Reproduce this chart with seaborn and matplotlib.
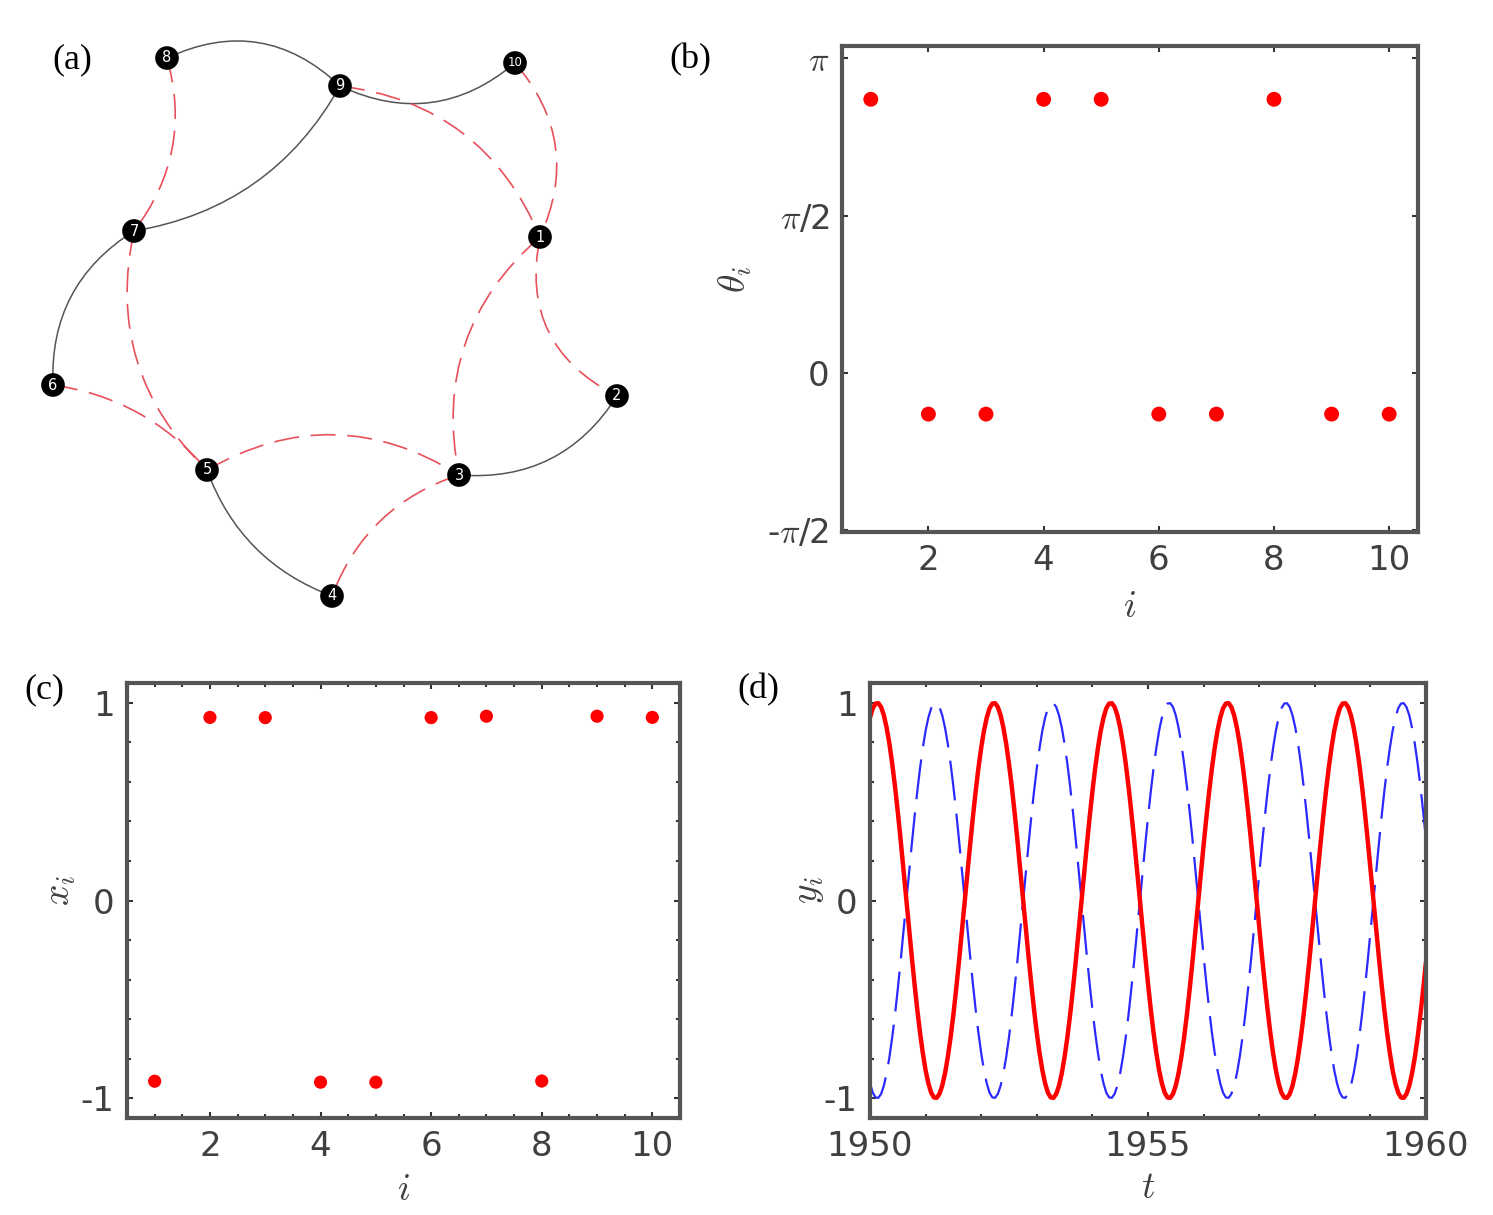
import numpy as np
import matplotlib
matplotlib.use("Agg")
import matplotlib.pyplot as plt
from matplotlib.path import Path
from matplotlib.patches import PathPatch
from matplotlib.ticker import MultipleLocator
import seaborn as sns

# ---- panel (a): network, node positions in image pixels (y down) ----
node_ids = [1, 2, 3, 4, 5, 6, 7, 8, 9, 10]
node_x = [540, 617, 459, 332, 207, 53, 134, 167, 340, 515]
node_y = [237, 396, 475, 596, 470, 385, 231, 58, 86, 63]
# (from, to, bend)
solid_edges = [(8, 9, -0.34), (9, 10, 0.32), (9, 7, -0.24),
               (7, 6, 0.29), (5, 4, 0.23), (3, 2, 0.30)]
dashed_edges = [(8, 7, -0.25), (9, 1, -0.29), (10, 1, -0.32),
                (1, 3, 0.29), (1, 2, 0.38), (7, 5, 0.28),
                (6, 5, -0.19), (5, 3, -0.30), (3, 4, 0.24)]

# ---- panel (b) / (c): phases and states per oscillator ----
osc = [1, 2, 3, 4, 5, 6, 7, 8, 9, 10]
theta = [2.73, -0.41, -0.41, 2.73, 2.73, -0.41, -0.41, 2.73, -0.41, -0.41]
x_state = [-0.914, 0.926, 0.925, -0.919, -0.919, 0.925, 0.932, -0.913, 0.932, 0.926]

# ---- panel (d): time series, read every 0.05 from 1950 to 1960 ----
t_start, t_stop = 1950, 1960
y_red = [
    0.925, 0.972, 0.996, 0.998, 0.978, 0.936, 0.873, 0.791, 0.691, 0.576, 0.447,
    0.309, 0.164, 0.015, -0.134, -0.280, -0.420, -0.551, -0.669, -0.772, -0.859,
    -0.925, -0.972, -0.996, -0.998, -0.978, -0.936, -0.873, -0.791, -0.691, -0.576,
    -0.447, -0.309, -0.164, -0.015, 0.134, 0.280, 0.420, 0.551, 0.669, 0.772, 0.859,
    0.925, 0.972, 0.996, 0.998, 0.978, 0.936, 0.873, 0.791, 0.691, 0.576, 0.447,
    0.309, 0.164, 0.015, -0.134, -0.280, -0.420, -0.551, -0.669, -0.772, -0.859,
    -0.925, -0.972, -0.996, -0.998, -0.978, -0.936, -0.873, -0.791, -0.691, -0.576,
    -0.447, -0.309, -0.164, -0.015, 0.134, 0.280, 0.420, 0.551, 0.669, 0.772, 0.859,
    0.925, 0.972, 0.996, 0.998, 0.978, 0.936, 0.873, 0.791, 0.691, 0.576, 0.447,
    0.309, 0.164, 0.015, -0.134, -0.280, -0.420, -0.551, -0.669, -0.772, -0.859,
    -0.925, -0.972, -0.996, -0.998, -0.978, -0.936, -0.873, -0.791, -0.691, -0.576,
    -0.447, -0.309, -0.164, -0.015, 0.134, 0.280, 0.420, 0.551, 0.669, 0.772, 0.859,
    0.925, 0.972, 0.996, 0.998, 0.978, 0.936, 0.873, 0.791, 0.691, 0.576, 0.447,
    0.309, 0.164, 0.015, -0.134, -0.280, -0.420, -0.551, -0.669, -0.772, -0.859,
    -0.925, -0.972, -0.996, -0.998, -0.978, -0.936, -0.873, -0.791, -0.691, -0.576,
    -0.447, -0.309, -0.164, -0.015, 0.134, 0.280, 0.420, 0.551, 0.669, 0.772, 0.859,
    0.925, 0.972, 0.996, 0.998, 0.978, 0.936, 0.873, 0.791, 0.691, 0.576, 0.447,
    0.309, 0.164, 0.015, -0.134, -0.280, -0.420, -0.551, -0.669, -0.772, -0.859,
    -0.925, -0.972, -0.996, -0.998, -0.978, -0.936, -0.873, -0.791, -0.691, -0.576,
    -0.447, -0.309,
]
y_blue = [
    -0.925, -0.972, -0.996, -0.998, -0.978, -0.936, -0.873, -0.791, -0.691, -0.576, -0.447,
    -0.309, -0.164, -0.015, 0.134, 0.280, 0.420, 0.551, 0.669, 0.772, 0.859,
    0.925, 0.972, 0.996, 0.998, 0.978, 0.936, 0.873, 0.791, 0.691, 0.576,
    0.447, 0.309, 0.164, 0.015, -0.134, -0.280, -0.420, -0.551, -0.669, -0.772, -0.859,
    -0.925, -0.972, -0.996, -0.998, -0.978, -0.936, -0.873, -0.791, -0.691, -0.576, -0.447,
    -0.309, -0.164, -0.015, 0.134, 0.280, 0.420, 0.551, 0.669, 0.772, 0.859,
    0.925, 0.972, 0.996, 0.998, 0.978, 0.936, 0.873, 0.791, 0.691, 0.576,
    0.447, 0.309, 0.164, 0.015, -0.134, -0.280, -0.420, -0.551, -0.669, -0.772, -0.859,
    -0.925, -0.972, -0.996, -0.998, -0.978, -0.936, -0.873, -0.791, -0.691, -0.576, -0.447,
    -0.309, -0.164, -0.015, 0.134, 0.280, 0.420, 0.551, 0.669, 0.772, 0.859,
    0.925, 0.972, 0.996, 0.998, 0.978, 0.936, 0.873, 0.791, 0.691, 0.576,
    0.447, 0.309, 0.164, 0.015, -0.134, -0.280, -0.420, -0.551, -0.669, -0.772, -0.859,
    -0.925, -0.972, -0.996, -0.998, -0.978, -0.936, -0.873, -0.791, -0.691, -0.576, -0.447,
    -0.309, -0.164, -0.015, 0.134, 0.280, 0.420, 0.551, 0.669, 0.772, 0.859,
    0.925, 0.972, 0.996, 0.998, 0.978, 0.936, 0.873, 0.791, 0.691, 0.576,
    0.447, 0.309, 0.164, 0.015, -0.134, -0.280, -0.420, -0.551, -0.669, -0.772, -0.859,
    -0.925, -0.972, -0.996, -0.998, -0.978, -0.936, -0.873, -0.791, -0.691, -0.576, -0.447,
    -0.309, -0.164, -0.015, 0.134, 0.280, 0.420, 0.551, 0.669, 0.772, 0.859,
    0.925, 0.972, 0.996, 0.998, 0.978, 0.936, 0.873, 0.791, 0.691, 0.576,
    0.447, 0.309,
]
t = np.round(np.linspace(t_start, t_stop, len(y_red)), 3)

sns.set_theme(style="white")
plt.rcParams['font.family'] = ['DejaVu Sans']
plt.rcParams['mathtext.fontset'] = 'cm'

GREY = '#404040'
fig = plt.figure(figsize=(14.93, 12.15), dpi=100)
W, H = 1493, 1215


def px_axes(l, t_, r, b):
    return fig.add_axes([l / W, 1 - b / H, (r - l) / W, (b - t_) / H])


def style_axes(ax):
    for sp in ax.spines.values():
        sp.set_visible(True)
        sp.set_color('#555555')
        sp.set_linewidth(3)
    ax.tick_params(which='both', direction='in', top=True, right=True,
                   bottom=True, left=True, color='#333333', width=1.5,
                   labelcolor=GREY, labelsize=24.5, pad=9)
    ax.tick_params(which='major', length=4)
    ax.tick_params(which='minor', length=3)


# (a) network
ax_a = px_axes(0, 0, 720, 620)
ax_a.axis('off')
pos = {n: (x, y) for n, x, y in zip(node_ids, node_x, node_y)}


def draw_edge(a, b, bend, **kw):
    p0 = np.array(pos[a], float)
    p2 = np.array(pos[b], float)
    d = p2 - p0
    c = (p0 + p2) / 2 + bend * np.array([-d[1], d[0]])
    path = Path([p0, c, p2], [Path.MOVETO, Path.CURVE3, Path.CURVE3])
    ax_a.add_patch(PathPatch(path, fill=False, **kw))


for a, b, bend in solid_edges:
    draw_edge(a, b, bend, edgecolor='#555555', lw=1.1, zorder=1)
for a, b, bend in dashed_edges:
    draw_edge(a, b, bend, edgecolor='#e8505a', lw=1.2, linestyle=(0, (15, 7)), zorder=1)

sns.scatterplot(x=node_x, y=node_y, ax=ax_a, color='black', s=290,
                edgecolor='none', zorder=3, legend=False)
for n, x, y in zip(node_ids, node_x, node_y):
    ax_a.text(x, y, str(n), color='white', fontsize=10.5 if n < 10 else 8.5,
              ha='center', va='center', zorder=4)
ax_a.set_xlim(0, 720)
ax_a.set_ylim(620, 0)

# (b) phases
ax_b = px_axes(842, 46, 1418, 532)
sns.scatterplot(x=osc, y=theta, ax=ax_b, color='red', s=115, edgecolor='none', legend=False)
ax_b.set_xlim(0.5, 10.5)
ax_b.set_ylim(-np.pi / 2 - 0.015, np.pi + 0.12)
ax_b.set_xticks([2, 4, 6, 8, 10])
ax_b.set_yticks([-np.pi / 2, 0, np.pi / 2, np.pi])
ax_b.set_yticklabels([r'-$\pi$/2', '0', r'$\pi$/2', r'$\pi$'])
style_axes(ax_b)
ax_b.set_xlabel(r'$i$', fontsize=27, color=GREY, va='center')
ax_b.set_ylabel(r'$\theta_i$', fontsize=27, color=GREY, va='center')
ax_b.xaxis.set_label_coords(0.5, -0.154)
ax_b.yaxis.set_label_coords(-0.186, 0.52)

# (c) states
ax_c = px_axes(127, 683, 680, 1118)
sns.scatterplot(x=osc, y=x_state, ax=ax_c, color='red', s=90, edgecolor='none', legend=False)
ax_c.set_xlim(0.5, 10.5)
ax_c.set_ylim(-1.1, 1.1)
ax_c.set_xticks([2, 4, 6, 8, 10])
ax_c.xaxis.set_minor_locator(MultipleLocator(0.5))
ax_c.set_yticks([-1, 0, 1])
ax_c.set_yticklabels(['-1', '0', '1'])
ax_c.yaxis.set_minor_locator(MultipleLocator(0.2))
style_axes(ax_c)
ax_c.set_xlabel(r'$i$', fontsize=27, color=GREY, va='center')
ax_c.set_ylabel(r'$x_i$', fontsize=27, color=GREY, va='center')
ax_c.xaxis.set_label_coords(0.5, -0.166)
ax_c.yaxis.set_label_coords(-0.121, 0.524)

# (d) time series
ax_d = px_axes(870, 683, 1426, 1118)
sns.lineplot(x=t, y=y_blue, ax=ax_d, color='#2a2aff', lw=1.6,
             linestyle=(0, (18, 6)), estimator=None)
sns.lineplot(x=t, y=y_red, ax=ax_d, color='red', lw=3.2, estimator=None)
ax_d.set_xlim(t_start, t_stop)
ax_d.set_ylim(-1.1, 1.1)
ax_d.set_xticks([1950, 1955, 1960])
ax_d.xaxis.set_minor_locator(MultipleLocator(1))
ax_d.set_yticks([-1, 0, 1])
ax_d.set_yticklabels(['-1', '0', '1'])
ax_d.yaxis.set_minor_locator(MultipleLocator(0.2))
style_axes(ax_d)
ax_d.set_xlabel(r'$t$', fontsize=27, color=GREY, va='center')
ax_d.set_ylabel(r'$y_i$', fontsize=27, color=GREY, va='center')
ax_d.xaxis.set_label_coords(0.5, -0.161)
ax_d.yaxis.set_label_coords(-0.112, 0.524)

# panel letters
for lab, (xp, yp) in zip(['(a)', '(b)', '(c)', '(d)'],
                         [(72, 60), (690, 60), (44, 690), (758, 690)]):
    fig.text(xp / W, 1 - yp / H, lab, fontsize=26, family='Liberation Serif',
             ha='center', va='center', color='black')

fig.savefig('out.png', dpi=100)
